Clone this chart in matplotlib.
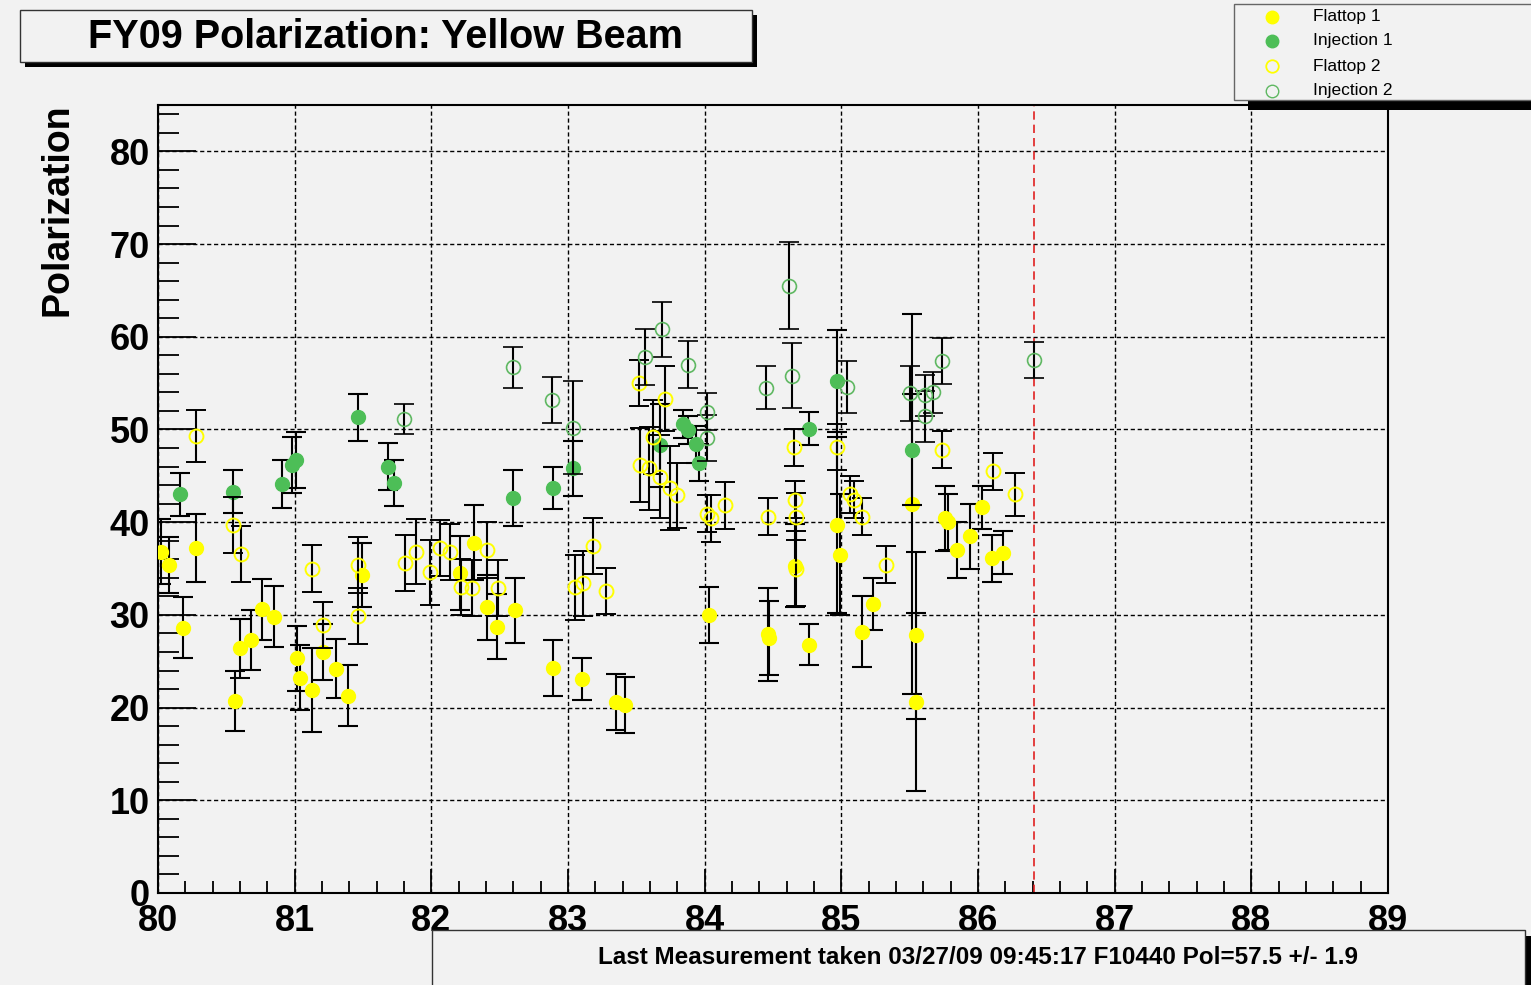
import matplotlib
matplotlib.use("Agg")
import matplotlib.pyplot as plt
from matplotlib.patches import Rectangle
from matplotlib.lines import Line2D
from matplotlib.ticker import MultipleLocator

# ---------------- data ----------------
title = "FY09 Polarization: Yellow Beam"
ylabel = "Polarization"
footer = "Last Measurement taken 03/27/09 09:45:17 F10440 Pol=57.5 +/- 1.9"
legend_labels = ["Flattop 1", "Injection 1", "Flattop 2", "Injection 2"]
last_fill_x = 86.41

f1_x = [80.02, 80.08, 80.18, 80.28, 80.56, 80.60, 80.68, 80.76, 80.85, 81.02,
        81.04, 81.13, 81.21, 81.30, 81.39, 81.49, 82.21, 82.31, 82.41, 82.48,
        82.61, 82.89, 83.10, 83.35, 83.42, 84.03, 84.46, 84.47, 84.76, 84.66,
        84.97, 84.99, 85.15, 85.23, 85.52, 85.55, 85.55, 85.76, 85.78, 85.85,
        85.94, 86.03, 86.10, 86.18]
f1_y = [36.8, 35.4, 28.6, 37.2, 20.7, 26.4, 27.3, 30.6, 29.8, 25.3,
        23.2, 21.9, 26.0, 24.2, 21.3, 34.3, 34.5, 37.8, 30.8, 28.7,
        30.5, 24.3, 23.1, 20.6, 20.3, 30.0, 27.9, 27.5, 26.8, 35.3,
        39.7, 36.5, 28.2, 31.2, 42.0, 27.8, 20.6, 40.4, 40.0, 37.0,
        38.5, 41.6, 36.1, 36.7]
f1_err = [3.5, 3.0, 3.3, 3.7, 3.2, 3.2, 3.2, 3.3, 3.3, 3.5,
          3.5, 4.5, 3.0, 3.2, 3.3, 3.5, 4.0, 4.0, 3.5, 3.5,
          3.5, 3.0, 2.3, 3.0, 3.0, 3.0, 5.0, 4.0, 2.2, 4.5,
          9.5, 6.5, 3.8, 2.8, 20.5, 9.0, 9.6, 3.5, 3.0, 3.0,
          3.5, 2.3, 2.5, 2.3]

i1_x = [80.16, 80.55, 80.91, 80.98, 81.01, 81.46, 81.68, 81.73, 82.60, 82.89,
        83.04, 83.67, 83.84, 83.88, 83.94, 83.96, 84.76, 84.97, 85.52]
i1_y = [43.0, 43.3, 44.1, 46.2, 46.7, 51.3, 46.0, 44.2, 42.6, 43.7,
        45.8, 48.3, 50.6, 49.9, 48.4, 46.4, 50.1, 55.2, 47.8]
i1_err = [2.3, 2.3, 2.6, 3.0, 3.0, 2.5, 2.5, 2.5, 3.0, 2.3,
          3.0, 4.5, 1.5, 1.5, 2.0, 2.0, 1.8, 5.5, 6.0]

f2_x = [80.28, 80.55, 80.61, 81.13, 81.21, 81.46, 81.46, 81.81, 81.89, 81.99,
        82.06, 82.14, 82.22, 82.30, 82.41, 82.49, 83.05, 83.11, 83.18, 83.28,
        83.52, 83.71, 83.62, 83.53, 83.59, 83.67, 83.75, 83.80, 84.02, 84.05,
        84.15, 84.46, 84.65, 84.66, 84.67, 84.67, 84.97, 85.06, 85.09, 85.15,
        85.33, 85.74, 86.11, 86.27]
f2_y = [49.3, 39.7, 36.6, 35.0, 28.9, 35.4, 29.9, 35.6, 36.8, 34.6,
        37.2, 36.8, 33.0, 32.9, 37.0, 32.9, 33.0, 33.4, 37.4, 32.6,
        55.0, 53.3, 49.2, 46.2, 45.8, 44.9, 43.7, 42.9, 40.9, 40.4,
        41.8, 40.6, 48.1, 42.4, 40.6, 35.0, 48.1, 43.0, 42.4, 40.6,
        35.4, 47.8, 45.5, 43.0]
f2_err = [2.8, 3.0, 3.0, 2.5, 2.5, 3.0, 3.0, 3.0, 3.5, 3.5,
          3.0, 3.0, 3.0, 3.0, 3.0, 3.0, 3.5, 3.5, 3.0, 2.5,
          2.5, 3.5, 4.0, 4.0, 4.5, 4.5, 4.5, 3.5, 2.0, 2.5,
          2.5, 2.0, 2.0, 2.0, 2.5, 4.0, 2.5, 2.0, 2.0, 2.0,
          2.0, 2.0, 2.0, 2.3]

i2_x = [81.80, 82.60, 82.88, 83.04, 83.56, 83.69, 83.88, 84.02, 84.02, 84.45,
        84.62, 84.64, 85.04, 85.50, 85.61, 85.67, 85.61, 85.74, 86.41]
i2_y = [51.1, 56.7, 53.2, 50.2, 57.8, 60.8, 57.0, 51.9, 49.1, 54.5,
        65.5, 55.8, 54.6, 53.9, 53.7, 54.0, 51.4, 57.4, 57.5]
i2_err = [1.6, 2.2, 2.5, 5.0, 3.0, 3.0, 2.5, 2.0, 2.5, 2.3,
          4.7, 3.5, 2.8, 3.0, 2.2, 2.2, 2.8, 2.5, 1.9]

# ---------------- figure ----------------
W, H = 1531, 985
BG = "#f2f2f2"
YEL = "#ffff00"
GRN = "#4dbe57"
GRN_OPEN = "#5fb862"

plt.rcParams['font.family'] = ['Liberation Sans', 'DejaVu Sans']

fig = plt.figure(figsize=(W / 100, H / 100), dpi=100, facecolor=BG)


def px_rect(x0, y0, x1, y1, **kw):
    r = Rectangle((x0 / W, 1 - y1 / H), (x1 - x0) / W, (y1 - y0) / H,
                  transform=fig.transFigure, **kw)
    fig.add_artist(r)
    return r


ax = fig.add_axes([158 / W, 1 - 893 / H, 1230 / W, 788 / H])
ax.set_facecolor(BG)
ax.set_xlim(80, 89)
ax.set_ylim(0, 85)

ax.xaxis.set_major_locator(MultipleLocator(1))
ax.xaxis.set_minor_locator(MultipleLocator(0.2))
ax.yaxis.set_major_locator(MultipleLocator(10))
ax.yaxis.set_minor_locator(MultipleLocator(2))

ax.tick_params(axis='y', which='major', direction='in', length=27, width=1.3,
               labelsize=26, pad=6, left=True, right=False)
ax.tick_params(axis='y', which='minor', direction='in', length=15, width=1.3,
               left=True, right=False)
ax.tick_params(axis='x', which='major', direction='in', length=17, width=1.3,
               labelsize=26, pad=8, bottom=True, top=False)
ax.tick_params(axis='x', which='minor', direction='in', length=9, width=1.3,
               bottom=True, top=False)
for lab in ax.get_xticklabels() + ax.get_yticklabels():
    lab.set_fontweight('bold')

for s in ax.spines.values():
    s.set_linewidth(1.5)
    s.set_color('black')

ax.grid(True, which='major', color='black', linestyle=(0, (3, 2)), linewidth=1.0)
ax.set_axisbelow(True)

ax.axvline(last_fill_x, color='#e02020', linestyle=(0, (5, 3)), linewidth=1.2, zorder=1)

eb_kw = dict(fmt='o', ecolor='black', elinewidth=1.5, capsize=7, capthick=1.5,
             markersize=10)
ax.errorbar(f1_x, f1_y, yerr=f1_err, mfc=YEL, mec=YEL, zorder=3, **eb_kw)
ax.errorbar(i1_x, i1_y, yerr=i1_err, mfc=GRN, mec=GRN, zorder=4, **eb_kw)
ax.errorbar(f2_x, f2_y, yerr=f2_err, mfc='none', mec=YEL, mew=1.4, zorder=5, **eb_kw)
ax.errorbar(i2_x, i2_y, yerr=i2_err, mfc='none', mec=GRN_OPEN, mew=1.2, zorder=6, **eb_kw)

# y title
fig.text(57 / W, 1 - 103 / H, ylabel, rotation=90, ha='center', va='top',
         fontsize=27, fontweight='bold')

# title box
px_rect(25, 15, 757, 67, facecolor='black', edgecolor='none')
px_rect(20, 10, 752, 62, facecolor=BG, edgecolor='#333333', linewidth=1.0)
fig.text(386 / W, 1 - 37 / H, title, ha='center', va='center',
         fontsize=28.5, fontweight='bold')

# legend box
px_rect(1248, 10, 1545, 110, facecolor='black', edgecolor='none')
px_rect(1234, 4, 1545, 100, facecolor=BG, edgecolor='#666666', linewidth=1.0)
leg_y = [17, 41, 66, 91]
leg_style = [dict(mfc=YEL, mec=YEL), dict(mfc=GRN, mec=GRN),
             dict(mfc='none', mec=YEL, mew=1.3), dict(mfc='none', mec=GRN_OPEN, mew=1.0)]
for lab, yy, st in zip(legend_labels, leg_y, leg_style):
    fig.add_artist(Line2D([1272 / W], [1 - yy / H], marker='o', markersize=9,
                          linestyle='none', transform=fig.transFigure, **st))
    fig.text(1313 / W, 1 - yy / H, lab, ha='left', va='center', fontsize=12.5)

# footer box
px_rect(438, 936, 1531, 995, facecolor='black', edgecolor='none')
px_rect(432, 930, 1525, 995, facecolor=BG, edgecolor='#333333', linewidth=1.0)
fig.text(978 / W, 1 - 958 / H, footer, ha='center', va='center',
         fontsize=17.5, fontweight='bold')

fig.savefig("out.png", dpi=100, facecolor=BG)
